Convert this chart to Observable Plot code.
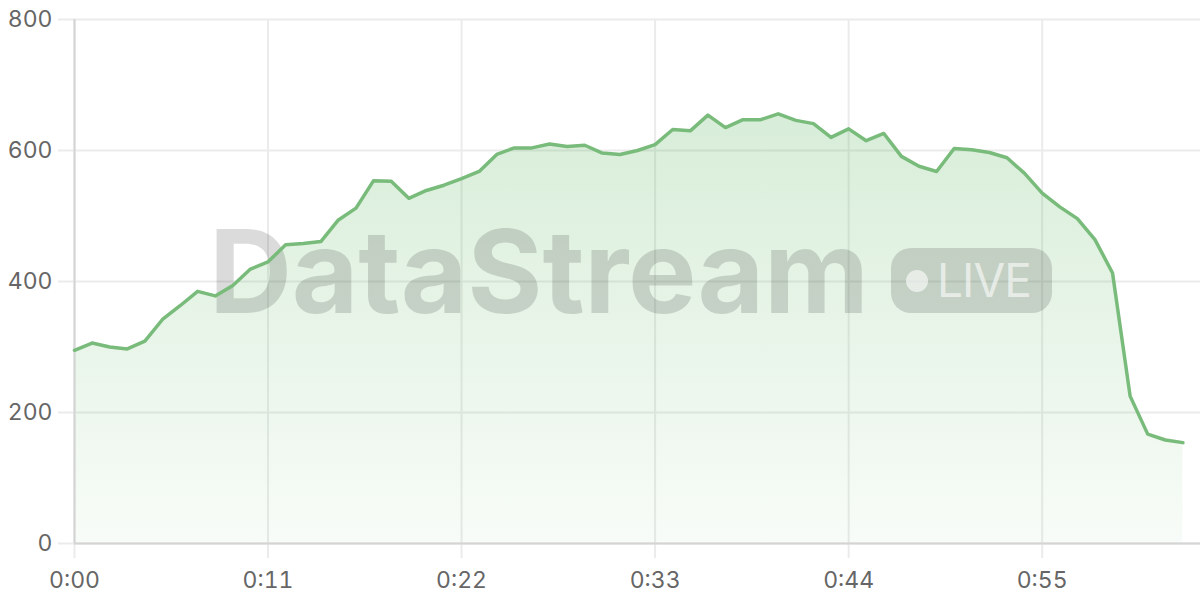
<!DOCTYPE html>
<html>
<head>
<meta charset="utf-8">
<script src="https://cdn.jsdelivr.net/npm/d3@7"></script>
<script src="https://cdn.jsdelivr.net/npm/@observablehq/plot@0.6"></script>
<style>
  html, body { margin: 0; padding: 0; background: #fff; }
  #chart { width: 1200px; height: 600px; }
</style>
</head>
<body>
<div id="chart"></div>
<script>
// Seconds elapsed (one sample per second)
const seconds = d3.range(0, 64);
// Values
const values = [
  295, 306, 300, 297, 309, 342, 363, 385, 378, 394,
  419, 430, 456, 458, 461, 494, 512, 554, 553, 527,
  539, 547, 557, 568, 594, 604, 604, 610, 606, 608,
  596, 594, 600, 609, 632, 630, 654, 635, 647, 647,
  656, 646, 641, 620, 633, 615, 626, 591, 576, 568,
  603, 601, 597, 589, 565, 535, 514, 496, 464, 413,
  225, 167, 158, 154
];
const xTicks = [0, 11, 22, 33, 44, 55];
const yTicks = [0, 200, 400, 600, 800];
const watermark = "DataStream";
const badge = "LIVE";

const data = seconds.map((t, i) => ({t, v: values[i]}));
const fmt = t => `${Math.floor(t / 60)}:${String(t % 60).padStart(2, "0")}`;

const gradient = () => {
  const defs = d3.create("svg:defs");
  const g = defs.append("linearGradient")
    .attr("id", "areaGrad").attr("x1", 0).attr("y1", 0).attr("x2", 0).attr("y2", 1);
  g.append("stop").attr("offset", "0%").attr("stop-color", "#4caf50").attr("stop-opacity", 0.22);
  g.append("stop").attr("offset", "100%").attr("stop-color", "#4caf50").attr("stop-opacity", 0.04);
  return defs.node();
};

const watermarkMark = () => {
  const g = d3.create("svg:g").attr("pointer-events", "none").attr("text-anchor", "start");
  g.append("text")
    .attr("x", 209).attr("y", 313)
    .attr("text-anchor", "start")
    .attr("font-family", "Inter, 'Noto Sans', sans-serif")
    .attr("font-weight", 700)
    .attr("font-size", 115)
    .attr("textLength", 660)
    .attr("lengthAdjust", "spacing")
    .attr("fill", "#000").attr("fill-opacity", 0.14)
    .text(watermark);
  g.append("rect")
    .attr("x", 891).attr("y", 248).attr("width", 161).attr("height", 65).attr("rx", 20)
    .attr("fill", "#000").attr("fill-opacity", 0.14);
  g.append("circle")
    .attr("cx", 917).attr("cy", 281).attr("r", 11)
    .attr("fill", "#fff").attr("fill-opacity", 0.6);
  g.append("text")
    .attr("x", 937).attr("y", 297)
    .attr("text-anchor", "start")
    .attr("font-family", "Inter, 'Noto Sans', sans-serif")
    .attr("font-weight", 400)
    .attr("font-size", 46)
    .attr("textLength", 95)
    .attr("lengthAdjust", "spacing")
    .attr("fill", "#fff").attr("fill-opacity", 0.6)
    .text(badge);
  return g.node();
};

const chart = Plot.plot({
  width: 1200,
  height: 600,
  marginLeft: 74,
  marginRight: 0,
  marginTop: 19,
  marginBottom: 57,
  style: {fontFamily: "Inter, 'Noto Sans', sans-serif", fontSize: "23px", color: "#666", background: "#fff", overflow: "visible"},
  x: {domain: [0, 64]},
  y: {domain: [0, 800]},
  marks: [
    gradient,
    Plot.gridY(yTicks, {stroke: "#ebebeb", strokeOpacity: 1, strokeWidth: 2}),
    Plot.gridX(xTicks, {stroke: "#ebebeb", strokeOpacity: 1, strokeWidth: 2}),
    Plot.axisY(yTicks, {tickSize: 16, tickPadding: 6, stroke: "#ebebeb", strokeWidth: 2, strokeOpacity: 1, fill: "#666", label: null}),
    Plot.axisX(xTicks, {tickSize: 15, tickPadding: 13, tickFormat: fmt, stroke: "#ebebeb", strokeWidth: 2, strokeOpacity: 1, fill: "#666", label: null}),
    Plot.areaY(data, {x: "t", y: "v", fill: "url(#areaGrad)"}),
    watermarkMark,
    Plot.ruleX([0], {stroke: "#d4d4d4", strokeWidth: 2}),
    Plot.ruleY([0], {stroke: "#d4d4d4", strokeWidth: 2}),
    Plot.lineY(data, {x: "t", y: "v", stroke: "#78bb7a", strokeWidth: 3.5, strokeLinejoin: "round"})
  ]
});
document.getElementById("chart").append(chart);
</script>
</body>
</html>
